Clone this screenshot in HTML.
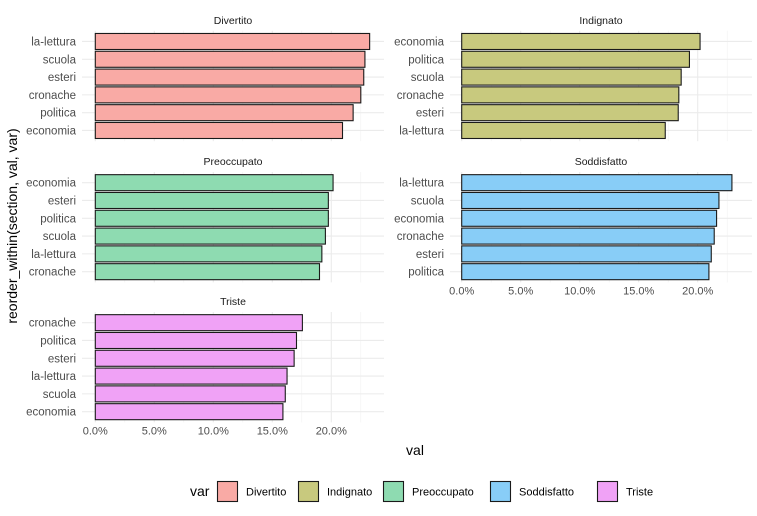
<!DOCTYPE html>
<html><head><meta charset="utf-8"><style>
body{margin:0;background:#fff}
svg{font-family:"Liberation Sans",sans-serif;display:block}
</style></head><body>
<svg id="chart" width="757" height="516" viewBox="0 0 757 516"></svg>
<script>
const panelNames = ["Divertito","Indignato","Preoccupato","Soddisfatto","Triste"];
const panelColors = ["#F9AAA5","#C8C97E","#8EDBB1","#88CDF7","#F0A2F6"];
const catsDivertito = ["la-lettura","scuola","esteri","cronache","politica","economia"];
const valsDivertito = [23.25,22.85,22.75,22.5,21.85,20.95];
const catsIndignato = ["economia","politica","scuola","cronache","esteri","la-lettura"];
const valsIndignato = [20.2,19.3,18.6,18.4,18.35,17.25];
const catsPreoccupato = ["economia","esteri","politica","scuola","la-lettura","cronache"];
const valsPreoccupato = [20.15,19.75,19.75,19.5,19.2,19.0];
const catsSoddisfatto = ["la-lettura","scuola","economia","cronache","esteri","politica"];
const valsSoddisfatto = [22.9,21.8,21.6,21.4,21.15,20.95];
const catsTriste = ["cronache","politica","esteri","la-lettura","scuola","economia"];
const valsTriste = [17.55,17.05,16.85,16.25,16.1,15.9];
const tickVals = [0,5,10,15,20];
const tickLabels = ["0.0%","5.0%","10.0%","15.0%","20.0%"];

const cats = [catsDivertito,catsIndignato,catsPreoccupato,catsSoddisfatto,catsTriste];
const vals = [valsDivertito,valsIndignato,valsPreoccupato,valsSoddisfatto,valsTriste];
const svg = document.getElementById('chart');
const NS = "http://www.w3.org/2000/svg";
function mk(tag, attrs, parent){const e=document.createElementNS(NS,tag);for(const k in attrs)e.setAttribute(k,attrs[k]);(parent||svg).appendChild(e);return e;}

const pxPerPct = 11.8;
const band = 17.8;
const panelW = 302;
const colX = [82, 450];
const zeroOff = [13.3, 11.7];
const rowTop = [30.8, 172, 312];
function xScale(col, v){return colX[col] + zeroOff[col] + v*pxPerPct;}
function yScale(row, i){return rowTop[row] + 0.6*band + i*band;}

panelNames.forEach((name, p) => {
  const col = p % 2, row = Math.floor(p/2);
  const g = mk('g', {});
  
  
  const top = rowTop[row], bot = top + 6.2*band;
  for (let v = 2.5; v < 25; v += 5) {
    const gl = mk('line', {x1:xScale(col,v),x2:xScale(col,v),y1:top,y2:bot,stroke:'#f2f2f2','stroke-width':0.6}, g);
    
    
  }
  tickVals.forEach(v => {
    const gl = mk('line', {x1:xScale(col,v),x2:xScale(col,v),y1:top,y2:bot,stroke:'#ebebeb','stroke-width':1.1}, g);
    
    
  });
  cats[p].forEach((c, i) => {
    const y = yScale(row, i);
    const gl = mk('line', {x1:colX[col],x2:colX[col]+panelW,y1:y,y2:y,stroke:'#ebebeb','stroke-width':1.1}, g);
    
    
    const t = mk('text', {x:colX[col]-6,y:y+4,'text-anchor':'end','font-size':11.5,fill:'#4d4d4d'}, g);
    t.textContent = c;
    
    
  });
  cats[p].forEach((c, i) => {
    const y = yScale(row, i);
    const x0 = xScale(col, 0), x1 = xScale(col, vals[p][i]);
    const b = mk('rect', {x:x0,y:y-band*0.45,width:x1-x0,height:band*0.9,fill:panelColors[p],stroke:'#1a1a1a','stroke-width':1.1}, g);
    
    
  });
  const st = mk('text', {x:colX[col]+panelW/2,y:top-7,'text-anchor':'middle','font-size':10.5,fill:'#1a1a1a'}, g);
  st.textContent = name;
  
  
  if (p === 3 || p === 4) {
    tickVals.forEach((v, k) => {
      const t = mk('text', {x:xScale(col,v),y:bot+12,'text-anchor':'middle','font-size':11,fill:'#4d4d4d'}, g);
      t.textContent = tickLabels[k];
      
      
    });
  }
});

const xt = mk('text', {x:415,y:455,'text-anchor':'middle','font-size':14,fill:'#000'});
xt.textContent = 'val';


const yt = mk('text', {x:0,y:0,'text-anchor':'middle','font-size':14,fill:'#000',transform:'translate(17,226) rotate(-90)'});
yt.textContent = 'reorder_within(section, val, var)';



const lg = mk('g', {});


const lt = mk('text', {x:190,y:496,'font-size':14,fill:'#000'}, lg);
lt.textContent = 'var';


const legX = [217, 298, 383, 490, 597];
panelNames.forEach((n, i) => {
  const r = mk('rect', {x:legX[i]+0.5,y:481.5,width:20,height:20,fill:panelColors[i],stroke:'#1a1a1a','stroke-width':1.1}, lg);
  
  
  const t = mk('text', {x:legX[i]+29,y:495.5,'font-size':11,fill:'#000'}, lg);
  t.textContent = n;
  
  
});
</script>
</body></html>
